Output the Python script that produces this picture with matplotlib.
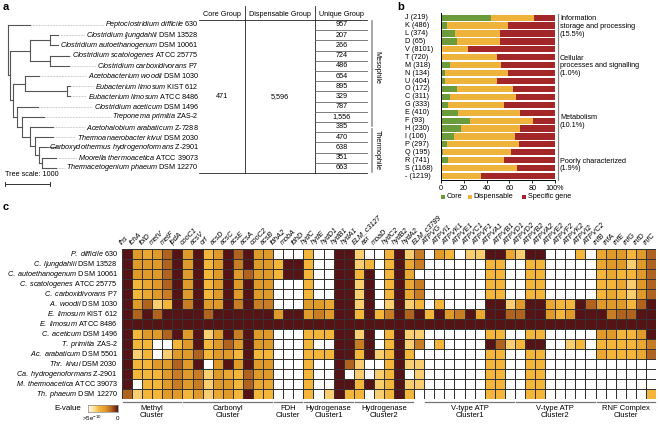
import numpy as np
import matplotlib.pyplot as plt
from matplotlib.colors import LinearSegmentedColormap
from matplotlib.transforms import blended_transform_factory

plt.rcParams['font.family'] = ['Liberation Sans', 'DejaVu Sans']
plt.rcParams['mathtext.fontset'] = 'custom'
plt.rcParams['mathtext.rm'] = 'Liberation Sans'
plt.rcParams['mathtext.it'] = 'Liberation Sans:italic'

# ---------------- panel a data ----------------
tree_species = ["Peptoclostridium difficile", "Clostridium ljungdahlii", "Clostridium autoethanogenum",
                "Clostridium scatologenes", "Clostridium carboxidivorans", "Acetobacterium woodii",
                "Eubacterium limosum", "Eubacterium limosum", "Clostridium aceticum", "Treponema primitia",
                "Acetohalobium arabaticum", "Thermoanaerobacter kivui", "Carboxydothermus hydrogenoformans",
                "Moorella thermoacetica", "Thermacetogenium phaeum"]
tree_strains = ["630", "DSM 13528", "DSM 10061", "ATCC 25775", "P7", "DSM 1030", "KIST 612", "ATCC 8486",
                "DSM 1496", "ZAS-2", "Z-7288", "DSM 2030", "Z-2901", "ATCC 39073", "DSM 12270"]
unique_group = ["957", "207", "266", "724", "486", "654", "895", "329", "787", "1,556", "385",
                "470", "638", "351", "663"]
core_group = "471"
dispensable_group = "5,596"
n_mesophile = 11

# (branch length, leaf index | children), tree units
species_tree = [
    (490, 0),
    (40, [
        (450, [
            (450, [(170, 1), (170, 2)]),
            (450, [(420, 3), (420, 4)]),
        ]),
        (60, [
            (280, [(310, 5), (930, [(70, 6), (70, 7)])]),
            (100, [
                (460, 8),
                (110, [
                    (480, 9),
                    (170, [
                        (520, 10),
                        (110, [
                            (420, 11),
                            (90, [(390, 12), (70, [(320, 13), (320, 14)])]),
                        ]),
                    ]),
                ]),
            ]),
        ]),
    ]),
]

# ---------------- panel b data ----------------
cog_cats = ["J", "K", "L", "D", "V", "T", "M", "N", "U", "O", "C", "G", "E", "F", "H", "I", "P", "Q",
            "R", "S", "-"]
cog_counts = [219, 486, 374, 65, 8101, 720, 318, 134, 404, 172, 311, 333, 410, 93, 230, 106, 297, 195,
              741, 1168, 1219]
core_pct = [43.5, 5.5, 12, 14, 0.5, 1, 8, 3.5, 3.5, 14, 8, 6.5, 15, 25, 17.5, 11.5, 5, 1.5, 6.5, 0.5, 0.5]
disp_pct = [38.5, 53, 40, 38, 23.5, 47.7, 45, 55.5, 46, 49.5, 58, 48.5, 54.5, 56, 52, 53.5, 63.7, 60,
            49, 66.2, 34.5]
cog_groups = [("Information\nstorage and processing\n(15.5%)", 0, 3),
              ("Cellular\nprocesses and signalling\n(1.0%)", 4, 9),
              ("Metabolism\n(10.1%)", 10, 17),
              ("Poorly characterized\n(1.9%)", 18, 20)]

# ---------------- panel c data ----------------
hm_species = ["P. difficile", "C. ljungdahlii", "C. autoethanogenum", "C. scatologenes",
              "C. carboxidivorans", "A. woodii", "E. limosum", "E. limosum", "C. aceticum", "T. primitia",
              "Ac. arabaticum", "Thr. kivui", "Ca. hydrogenoformans", "M. thermoacetica", "Th. phaeum"]
hm_strains = ["630", "DSM 13528", "DSM 10061", "ATCC 25775", "P7", "DSM 1030", "KIST 612", "ATCC 8486",
              "DSM 1496", "ZAS-2", "DSM 5501", "DSM 2030", "Z-2901", "ATCC 39073", "DSM 12270"]
genes = ["fhs", "fchA", "folD", "metV", "metF", "lpdA", "cooC1", "acsV", "orf", "acsD", "acsC", "acsE",
         "acsA", "cooC2", "acsB", "fdhA2", "mobA", "fdhD", "hydC", "hydE", "hydD1", "hydB1", "hydA1",
         "ELM_c3127", "asr", "moaD", "hydC2", "hydB2", "hydA2", "ELM_c3789", "ATPVG", "ATPVI1", "ATPVK1",
         "ATPVE1", "ATPVC1", "ATPVF1", "ATPVA1", "ATPVB1", "ATPVD1", "ATPVD2", "ATPVB2", "ATPVA2",
         "ATPVE2", "ATPVF2", "ATPVK2", "ATPVI2", "ATPVC2", "rnfB", "rnfA", "rnfE", "rnfG", "rnfD", "rnfC"]
clusters = [("Methyl\nCluster", 0, 5), ("Carbonyl\nCluster", 6, 14), ("FDH\nCluster", 15, 17),
            ("Hydrogenase\nCluster1", 18, 22), ("Hydrogenase\nCluster2", 23, 28),
            ("V-type ATP\nCluster1", 30, 38), ("V-type ATP\nCluster2", 39, 46),
            ("RNF Complex\nCluster", 47, 52)]
# E-value level per cell: 0 = no hit (white) ... 5 = E-value 0 (dark)
heat_rows = [
    [5, 3, 2.5, 3, 4, 5, 3, 5, 2, 3, 5, 4, 5, 3, 3, 0, 0, 0, 2, 0, 0, 5, 5, 1.5, 0, 0, 2, 5, 1.5, 3.5,
     0, 3, 2, 0, 1.5, 1.5, 5, 5, 2.5, 1.5, 5, 5, 0, 0, 0, 2, 0, 2.5, 3, 3, 2, 3, 4],
    [5, 3, 3, 3, 4, 5, 3, 5, 2, 3, 5, 3.5, 5, 3, 3, 2, 5, 5, 2, 0, 0, 5, 5, 1.5, 2, 0, 2, 5, 2.5, 3.5,
     0, 0, 0, 0, 0, 0, 2, 2, 0, 0, 2, 2, 0, 0, 0, 0, 0, 2.5, 3, 3, 1.5, 3, 4],
    [5, 3, 3, 3, 4, 5, 3, 5, 2, 3, 5, 3, 4, 3, 3, 2, 5, 5, 2, 0, 0, 5, 5, 2, 5, 0, 2, 5, 2.5, 0,
     0, 0, 0, 0, 0, 0, 2, 2, 0, 0, 2, 2, 0, 0, 0, 0, 0, 2, 2.5, 2, 2, 3, 4],
    [5, 2, 2.5, 3, 4, 5, 3, 5, 2, 3, 5, 3, 5, 3, 3, 0, 0, 0, 2, 0, 0, 5, 5, 1.5, 5, 0, 2, 5, 2.5, 3.5,
     0, 0, 0, 0, 0, 0, 2, 2, 0, 0, 2, 2, 0, 0, 0, 0, 0, 2, 2, 2.5, 1.5, 3, 4],
    [5, 2, 2.5, 3, 3.5, 5, 3, 5, 2, 3, 5, 3, 5, 3, 3, 0, 0, 0, 2, 0, 0, 5, 5, 1.5, 5, 0, 2, 5, 2.5, 3.5,
     0, 0, 0, 0, 0, 0, 2, 2, 0, 0, 2, 2, 0, 0, 0, 0, 0, 2, 2.5, 2, 1.5, 3, 4],
    [5, 3, 4, 1.5, 2, 5, 3.5, 5, 3, 3, 5, 3.5, 5, 3.5, 3.5, 0, 0, 0, 3, 3, 2.5, 5, 5, 1.5, 5, 0, 1.5, 5, 1.5, 2,
     0, 2, 0, 0, 0, 0, 5, 5, 1.5, 3, 5, 5, 2.5, 2, 2, 5, 4, 3, 3, 3, 2, 4, 5],
    [5, 4, 5, 4, 5, 5, 5, 5, 4, 5, 5, 5, 5, 5, 5, 3, 5, 5, 3, 3.5, 3, 5, 5, 2, 5, 2, 3.5, 5, 4, 5,
     2, 5, 3, 3.5, 5, 2.5, 5, 5, 4, 4, 5, 5, 3, 2, 3, 5, 5, 5, 3.5, 4, 4, 5, 5],
    [5] * 53,
    [5, 2, 3, 3, 4, 5, 3, 5, 1.5, 3, 5, 3.5, 5, 3, 3, 0, 0, 0, 2, 2, 2, 5, 5, 1.5, 5, 0, 2, 5, 1.5, 1.5,
     0, 0, 0, 0, 0, 0, 2, 2, 0, 0, 2, 2, 0, 0, 0, 0, 0, 3, 3, 2, 2, 3, 5],
    [5, 2, 2, 0, 0, 2, 3, 5, 2, 3, 4, 3, 5, 3, 3, 0, 0, 0, 2, 0, 0, 5, 5, 3.5, 5, 0, 2, 5, 1.5, 3.5,
     0, 2, 0, 0, 0, 0, 5, 4, 1.5, 2, 5, 5, 0, 0, 1.5, 2, 0, 2, 2, 2, 2, 2.5, 3.5],
    [5, 1.5, 2, 0, 1.5, 3, 3, 4, 2, 3, 3, 2, 5, 2, 2, 0, 0, 0, 2, 2, 2, 5, 5, 2, 5, 1.5, 2, 5, 2, 0,
     0, 0, 0, 0, 0, 0, 2, 2, 0, 0, 2, 2, 0, 0, 0, 0, 0, 2.5, 2, 2, 2, 2.5, 4],
    [5, 2, 2, 3, 3, 4, 3, 5, 0, 3, 5, 3, 5, 3, 3, 0, 0, 0, 2, 0, 0, 5, 4, 1.5, 0, 0, 2, 5, 1.5, 1.5,
     0, 0, 0, 0, 0, 0, 2, 2, 0, 0, 2, 2, 0, 0, 0, 0, 0, 0, 0, 0, 0, 0, 0],
    [5, 2, 2, 2, 3, 3.5, 3, 3.5, 1.5, 3, 2.5, 2, 4, 3, 3, 0, 0, 0, 2, 0, 0, 5, 0, 1.5, 0, 1.5, 2, 5, 0, 1.5,
     0, 0, 0, 0, 0, 0, 2, 2, 0, 0, 2, 2, 0, 0, 0, 0, 0, 0, 0, 0, 0, 0, 0],
    [5, 0, 2, 2, 3, 3.5, 3, 3.5, 1.5, 3, 3, 2, 4, 2.5, 2.5, 0, 0, 0, 2, 0, 0, 5, 5, 2, 5, 1.5, 2, 5, 1.5, 1.5,
     0, 0, 0, 0, 0, 0, 2, 2, 0, 0, 2, 2, 0, 0, 0, 0, 0, 0, 0, 0, 0, 0, 0],
    [4, 1.5, 2, 2, 3, 3, 2, 3, 1.5, 2.5, 3, 2, 5, 2, 2, 0, 0, 0, 2, 0, 1.5, 5, 2, 2, 0, 1.5, 2, 5, 2, 0,
     0, 0, 0, 0, 0, 0, 2, 2, 0, 0, 2, 2, 0, 0, 0, 0, 0, 0, 0, 0, 0, 0, 2],
]

c_core, c_disp, c_spec = '#6b9b3a', '#eeb33b', '#a32728'
ev_cmap = LinearSegmentedColormap.from_list(
    'evalue', [(0, '#ffffff'), (0.2, '#fde6a6'), (0.4, '#f4b63a'), (0.6, '#e09a2a'),
               (0.8, '#b0621f'), (1, '#561315')])


def ital(s):
    return r"$\mathit{" + s.replace(" ", r"\ ") + "}$"


W, H = 660, 424
fig = plt.figure(figsize=(W / 100, H / 100), dpi=100)
bg = fig.add_axes([0, 0, 1, 1])
bg.set_xlim(0, W)
bg.set_ylim(H, 0)
bg.axis('off')


def px_axes(x0, y0, x1, y1):
    return fig.add_axes([x0 / W, 1 - y1 / H, (x1 - x0) / W, (y1 - y0) / H])


fs = 5.2

# ================= panel a =================
bg.text(3, 7, "a", fontsize=8, fontweight='bold', va='center')
row0, row_step = 25, 10.2


def tree_row(i):
    return row0 + row_step * i


tree_px = 45 / 1000   # pixels per tree unit (scale bar = 1000)
root_x = 8
segs, tips = [], {}


def layout(node, x0):
    length, payload = node
    x1 = x0 + length * tree_px
    if isinstance(payload, int):
        y = tree_row(payload)
        tips[payload] = x1
    else:
        ys = [layout(ch, x1) for ch in payload]
        segs.append(((x1, x1), (ys[0], ys[-1])))
        y = (ys[0] + ys[-1]) / 2
    segs.append(((x0, x1), (y, y)))
    return y


layout((0, species_tree), root_x)
for xs, ys in segs:
    bg.plot(xs, ys, color='#555555', lw=0.8, solid_capstyle='projecting')

tree_texts = []
for i, (sp, st) in enumerate(zip(tree_species, tree_strains)):
    tree_texts.append(bg.text(199, tree_row(i), ital(sp) + " " + st, ha='right', va='center', fontsize=fs))

fig.canvas.draw()
rend = fig.canvas.get_renderer()
inv = bg.transData.inverted()
for i, t in enumerate(tree_texts):
    bb = t.get_window_extent(rend)
    x_left = inv.transform((bb.x0, bb.y0))[0]
    bg.plot([tips[i] + 1, x_left - 1.5], [tree_row(i)] * 2, color='#999999', lw=0.5, ls=(0, (1, 1.2)))

# tree scale
bg.text(5, 175, "Tree scale: 1000", fontsize=fs, va='center')
bg.plot([5, 5 + 1000 * tree_px], [184, 184], color='#333333', lw=0.7)
bg.plot([5, 5], [182, 186], color='#333333', lw=0.7)
bg.plot([5 + 1000 * tree_px] * 2, [182, 186], color='#333333', lw=0.7)

# pan-genome table
tab_l, core_r, disp_r, uniq_r = 199, 245, 315, 367
tab_top, head_line = 6, tree_row(-0.5)
tab_bot = tree_row(len(unique_group) - 0.5)
bg.text((tab_l + core_r) / 2, 14, "Core Group", ha='center', va='center', fontsize=fs)
bg.text((core_r + disp_r) / 2, 14, "Dispensable Group", ha='center', va='center', fontsize=fs)
bg.text((disp_r + uniq_r) / 2, 14, "Unique Group", ha='center', va='center', fontsize=fs)
for x in (core_r, disp_r):
    bg.plot([x, x], [tab_top, tab_bot], color='#222222', lw=0.6)
bg.plot([tab_l, uniq_r], [head_line, head_line], color='#222222', lw=0.6)
bg.plot([tab_l, uniq_r], [tab_bot, tab_bot], color='#222222', lw=0.6)
mid_row = tree_row((len(unique_group) - 1) / 2)
bg.text((tab_l + core_r) / 2, mid_row, core_group, ha='center', va='center', fontsize=fs)
bg.text((core_r + disp_r) / 2, mid_row, dispensable_group, ha='center', va='center', fontsize=fs)
for i, v in enumerate(unique_group):
    bg.text((disp_r + uniq_r) / 2 + 1, tree_row(i), v, ha='center', va='center', fontsize=fs)
    if i < len(unique_group) - 1:
        bg.plot([disp_r, uniq_r], [tree_row(i + 0.5)] * 2, color='#666666', lw=0.6)

# mesophile / thermophile brackets
bx = 372
meso_a, meso_b = tree_row(-0.35), tree_row(n_mesophile - 1.05)
ther_a, ther_b = tree_row(n_mesophile - 0.85), tree_row(len(unique_group) - 0.55)
bg.plot([bx, bx], [meso_a, meso_b], color='#999999', lw=1.2)
bg.plot([bx, bx], [ther_a, ther_b], color='#999999', lw=1.2)
bg.text(bx + 5, (meso_a + meso_b) / 2 - 6, "Mesophile", rotation=-90, ha='center', va='center', fontsize=fs)
bg.text(bx + 5, (ther_a + ther_b) / 2, "Thermophile", rotation=-90, ha='center', va='center', fontsize=fs)

# ================= panel b =================
bg.text(397, 7, "b", fontsize=8, fontweight='bold', va='center')
n_cog = len(cog_cats)
axb = px_axes(441, 13.3, 555, 180.4)
yb = np.arange(n_cog)
core = np.array(core_pct)
disp = np.array(disp_pct)
spec = 100 - core - disp
axb.barh(yb, core, height=0.78, color=c_core, lw=0)
axb.barh(yb, disp, left=core, height=0.78, color=c_disp, lw=0)
axb.barh(yb, spec, left=core + disp, height=0.78, color=c_spec, lw=0)
axb.set_xlim(0, 100)
axb.set_ylim(n_cog - 0.45, -0.55)
axb.set_yticks([])
axb.set_xticks([0, 20, 40, 60, 80, 100])
axb.set_xticklabels(["0", "20", "40", "60", "80", "100%"], fontsize=fs)
axb.tick_params(axis='x', length=2, width=0.6, pad=1)
for s in ('top', 'right'):
    axb.spines[s].set_visible(False)
for s in ('left', 'bottom'):
    axb.spines[s].set_linewidth(0.7)

tb = blended_transform_factory(bg.transData, axb.transData)
for i, (c, n) in enumerate(zip(cog_cats, cog_counts)):
    bg.text(405, i, f"{c} ({n})", transform=tb, ha='left', va='center', fontsize=fs)
for label, a, b in cog_groups:
    bg.plot([557.5, 557.5], [a - 0.45, b + 0.45], transform=tb, color='#888888', lw=0.9)
    bg.text(560, (a + b) / 2 - 0.4, label, transform=tb, ha='left', va='center', fontsize=fs,
            linespacing=1.15)

# legend
for x, col, lab in [(443, c_core, "Core"), (470, c_disp, "Dispensable"), (524, c_spec, "Specific gene")]:
    bg.scatter([x], [197], marker='s', s=7, color=col, lw=0)
    bg.text(x + 3.5, 197, lab, ha='left', va='center', fontsize=fs)

# ================= panel c =================
bg.text(3, 207, "c", fontsize=8, fontweight='bold', va='center')
n_sp, n_gene = len(hm_species), len(genes)
axc = px_axes(122, 249, 656, 399)
axc.pcolormesh(np.array(heat_rows), cmap=ev_cmap, vmin=0, vmax=5, edgecolors='#333333', linewidth=0.5)
axc.set_xlim(0, n_gene)
axc.set_ylim(n_sp, 0)
axc.axis('off')

for i, (sp, st) in enumerate(zip(hm_species, hm_strains)):
    axc.text(-0.4, i + 0.5, ital(sp) + " " + st, ha='right', va='center', fontsize=fs)
for j, g in enumerate(genes):
    axc.text(j + 0.15, -0.3, g, rotation=45, rotation_mode='anchor', ha='left', va='bottom',
             fontsize=fs, style='italic')
for label, a, b in clusters:
    axc.plot([a + 0.1, b + 0.9], [n_sp + 0.3, n_sp + 0.3], color='#777777', lw=0.9, clip_on=False)
    axc.text((a + b + 1) / 2, n_sp + 0.55, label, ha='center', va='top', fontsize=fs + 0.3,
             linespacing=1.15)

# colour key
cax = px_axes(88, 405, 118, 412)
cax.imshow(np.linspace(0.03, 1, 100)[None, :], cmap=ev_cmap, aspect='auto', vmin=0, vmax=1)
cax.set_xticks([])
cax.set_yticks([])
for s in cax.spines.values():
    s.set_color('#888888')
    s.set_linewidth(0.5)
bg.text(81, 408.5, "E-value", ha='right', va='center', fontsize=fs + 0.5)
bg.text(92, 418.5, r">5e$^{-10}$", ha='center', va='center', fontsize=fs - 0.7)
bg.text(117, 418.5, "0", ha='center', va='center', fontsize=fs - 0.7)

fig.savefig("out.png", dpi=100)
